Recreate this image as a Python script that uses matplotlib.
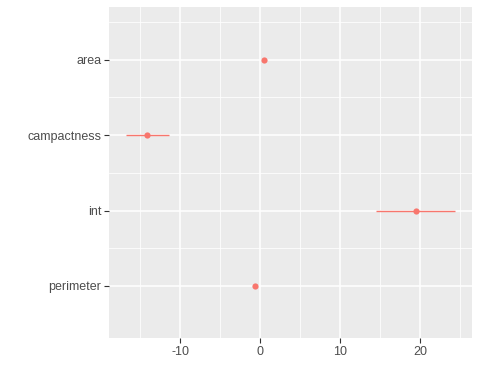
import matplotlib
matplotlib.use("Agg")
import matplotlib.pyplot as plt

terms = ["area", "campactness", "int", "perimeter"]
estimate = [0.5, -14.1, 19.5, -0.66]
conf_low = [0.5, -16.8, 14.5, -0.66]
conf_high = [0.5, -11.45, 24.4, -0.66]
x_ticks = [-10, 0, 10, 20]

plt.rcParams['font.family'] = ['Liberation Sans', 'DejaVu Sans']

fig = plt.figure(figsize=(4.8, 3.84), dpi=100)
ax = fig.add_axes([109/480, 1 - 338/384, (472-109)/480, (338-7)/384])
ax.set_facecolor('#EBEBEB')
for s in ax.spines.values():
    s.set_visible(False)

n = len(terms)
ypos = [n - i for i in range(n)]
col = '#F8766D'
for y, e, lo, hi in zip(ypos, estimate, conf_low, conf_high):
    if hi > lo:
        ax.plot([lo, hi], [y, y], color=col, lw=1.0, zorder=3, solid_capstyle='butt')
ax.scatter(estimate, ypos, s=20, color=col, zorder=4, linewidths=0)

ax.set_xlim(-18.9, 26.5)
ax.set_ylim(0.31, 4.70)
ax.set_xticks(x_ticks)
ax.set_xticklabels([str(v) for v in x_ticks])
ax.set_xticks([-15, -5, 5, 15, 25], minor=True)
ax.set_yticks(ypos)
ax.set_yticklabels(terms)
ax.set_yticks([1.5, 2.5, 3.5, 4.5], minor=True)

ax.grid(which='major', color='white', lw=1.1)
ax.grid(which='minor', color='white', lw=0.55)
ax.set_axisbelow(True)
ax.tick_params(which='major', length=3.5, width=0.8, color='#333333',
               labelcolor='#4D4D4D', labelsize=9, pad=2)
ax.tick_params(which='minor', length=0)

fig.savefig('out.png', dpi=100)
